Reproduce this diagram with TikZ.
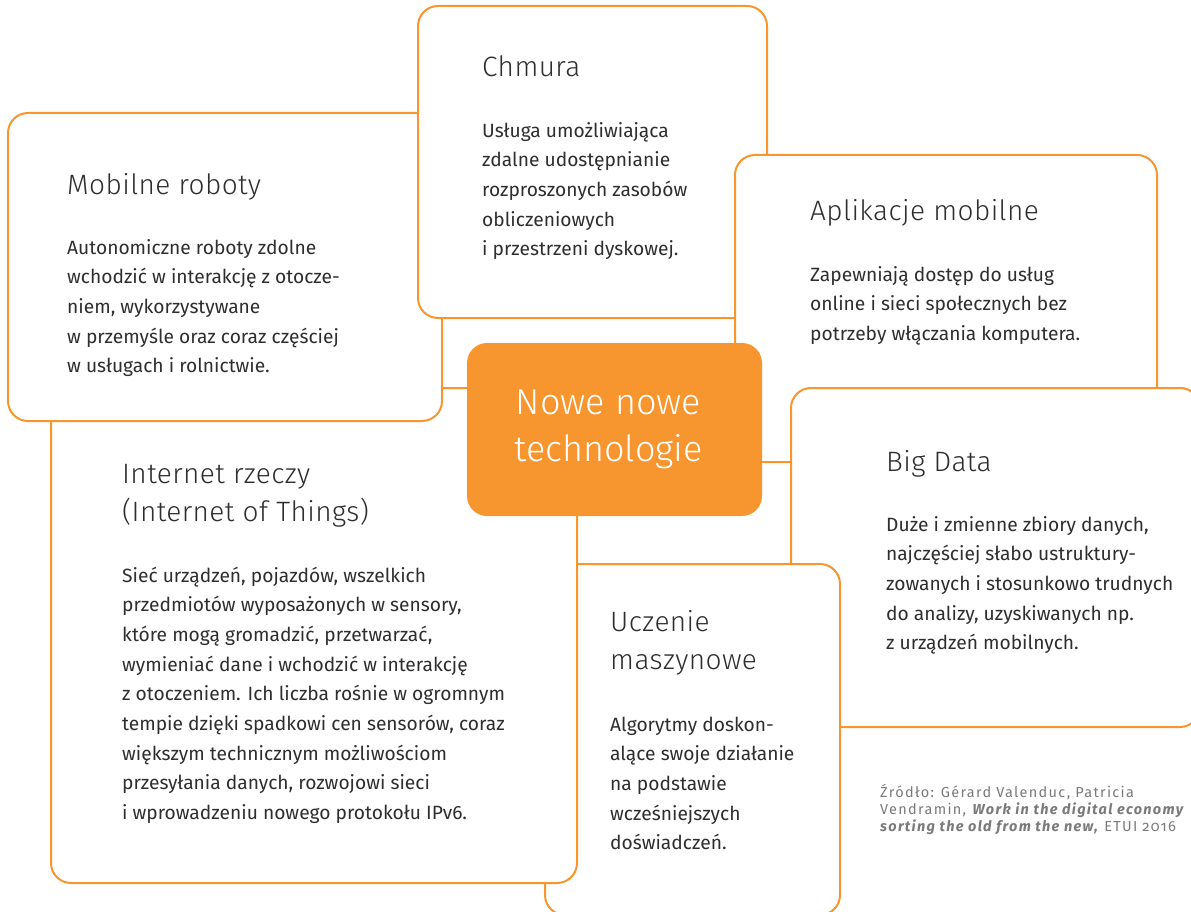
\documentclass[tikz,border=0pt]{standalone}
\usepackage{fontspec}
\setmainfont{Fira Sans}
\newfontfamily\headfont{Fira Sans Light}[LetterSpace=1.5]
\newfontfamily\corefont{Fira Sans Light}
\newfontfamily\notefont{Fira Sans}[Numbers=OldStyle,LetterSpace=9]
\usetikzlibrary{positioning}
\definecolor{techorange}{HTML}{F7962F}
\definecolor{techink}{HTML}{2E2E2E}
\definecolor{noteink}{HTML}{7A7A7A}
\tikzset{
  techbox/.style={draw=techorange,line width=2pt,fill=white,rounded corners=20pt},
  corebox/.style={fill=techorange,rounded corners=20pt,
    minimum width=295pt,minimum height=173pt,inner sep=0pt},
  coretext/.style={text=white,align=center,inner sep=0pt,
    font=\corefont\fontsize{36}{47}\selectfont},
  % base anchor of a text with several lines = baseline of its last line
  headtext/.style={anchor=base west,inner sep=0pt,align=left,text=techink,
    font=\headfont\fontsize{28}{38}\selectfont},
  bodytext/.style={anchor=base west,inner sep=0pt,align=left,text=techink,
    font=\fontsize{19.2}{29.7}\selectfont},
}

\begin{document}
\begin{tikzpicture}[x=1pt,y=-1pt]
  \useasboundingbox (0,0) rectangle (1191,912);
  % boxes, from the back to the front
  \draw[techbox] (791,388) rectangle (1200,727);
  \draw[techbox] (545,564) rectangle (840,915);
  \draw[techbox] (51,388) rectangle (577,883);
  \draw[techbox] (8,113) rectangle (442,421);
  \draw[techbox] (418,6) rectangle (767,318);
  \draw[techbox] (735,155) rectangle (1157,462);
  \begin{scope}
    \clip (780,370) rectangle (1200,500);
    \draw[techbox] (791,388) rectangle (1200,727);
  \end{scope}
  \node[corebox] (core) at (614.5,429.5) {};
  \node[coretext] (coreLabel) at ([xshift=-6pt]core.center) {Nowe nowe\\technologie};

  \node[headtext] (robotsHead) at (67,195) {Mobilne roboty};
  \node[bodytext] (robotsText) at (67,372.8) {Autonomiczne roboty zdolne\\
    wchodzić w interakcję z otocze-\\niem, wykorzystywane\\
    w przemyśle oraz coraz częściej\\w usługach i rolnictwie.};

  \node[headtext] (cloudHead) at (482,77) {Chmura};
  \node[bodytext] (cloudText) at (482,255.8) {Usługa umożliwiająca\\
    zdalne udostępnianie\\rozproszonych zasobów\\obliczeniowych\\
    i przestrzeni dyskowej.};

  \node[headtext] (appsHead) at (810,221) {Aplikacje mobilne};
  \node[bodytext] (appsText) at (810,340.4) {Zapewniają dostęp do usług\\
    online i sieci społecznych bez\\potrzeby włączania komputera.};

  \node[headtext] (dataHead) at (886,471) {Big Data};
  \node[bodytext] (dataText) at (886,649.8) {Duże i zmienne zbiory danych,\\
    najczęściej słabo ustruktury-\\zowanych i stosunkowo trudnych\\
    do analizy, uzyskiwanych np.\\z urządzeń mobilnych.};

  \node[headtext] (thingsHead) at (122,521) {Internet rzeczy\\(Internet of Things)};
  \node[bodytext] (thingsText) at (122,819.6) {Sieć urządzeń, pojazdów, wszelkich\\
    przedmiotów wyposażonych w sensory,\\które mogą gromadzić, przetwarzać,\\
    wymieniać dane i wchodzić w interakcję\\z otoczeniem. Ich liczba rośnie w ogromnym\\
    tempie dzięki spadkowi cen sensorów, coraz\\większym technicznym możliwościom\\
    przesyłania danych, rozwojowi sieci\\i wprowadzeniu nowego protokołu IPv6.};

  \node[headtext] (learnHead) at (610,669) {Uczenie\\maszynowe};
  \node[bodytext] (learnText) at (610,849.8) {Algorytmy doskon-\\alące swoje działanie\\
    na podstawie\\wcześniejszych\\doświadczeń.};

  \node[anchor=base west,inner sep=0pt,align=left,text=noteink,
    font=\notefont\fontsize{14.5}{17}\selectfont] (source) at (880,831)
    {Źródło: Gérard Valenduc, Patricia\\
    Vendramin, \textbf{\textit{Work in the digital economy}}\\
    \textbf{\textit{sorting the old from the new,}} ETUI 2016};
\end{tikzpicture}
\end{document}
